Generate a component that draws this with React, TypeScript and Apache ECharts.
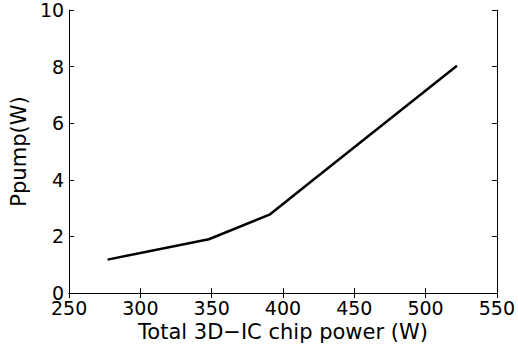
import React, { useEffect, useRef } from "react";
import * as echarts from "echarts";

const powerW = [277, 348, 391, 418, 522];
const pumpW = [1.18, 1.9, 2.78, 3.87, 8.03];
const xTitle = "Total 3D\u2212IC chip power (W)";
const yTitle = "Ppump(W)";

const FONT = "DejaVu Sans";

export default function App() {
  const ref = useRef<HTMLDivElement>(null);
  useEffect(() => {
    if (!ref.current) return;
    const chart = echarts.init(ref.current, null, { renderer: "svg" });
    const axisLine = { show: true, lineStyle: { color: "#000", width: 1 } };
    const tick = { show: true, inside: true, length: 5, lineStyle: { color: "#000", width: 1 } };
    chart.setOption({
      animation: false,
      backgroundColor: "#fff",
      grid: { left: 69, top: 10, right: 19, bottom: 59, containLabel: false },
      xAxis: [
        {
          type: "value",
          min: 250,
          max: 550,
          interval: 50,
          position: "bottom",
          axisLine,
          axisTick: tick,
          splitLine: { show: false },
          axisLabel: { color: "#000", fontSize: 19, fontFamily: FONT, margin: 5 },
          name: xTitle,
          nameLocation: "middle",
          nameGap: 25,
          nameTextStyle: { color: "#000", fontSize: 21, fontFamily: FONT },
        },
        {
          type: "value",
          min: 250,
          max: 550,
          interval: 50,
          position: "top",
          axisLine,
          axisTick: tick,
          splitLine: { show: false },
          axisLabel: { show: false },
        },
      ],
      yAxis: [
        {
          type: "value",
          min: 0,
          max: 10,
          interval: 2,
          position: "left",
          axisLine,
          axisTick: tick,
          splitLine: { show: false },
          axisLabel: { color: "#000", fontSize: 19, fontFamily: FONT, margin: 5 },
          name: yTitle,
          nameLocation: "middle",
          nameGap: 35,
          nameTextStyle: { color: "#000", fontSize: 21, fontFamily: FONT },
        },
        {
          type: "value",
          min: 0,
          max: 10,
          interval: 2,
          position: "right",
          axisLine,
          axisTick: tick,
          splitLine: { show: false },
          axisLabel: { show: false },
        },
      ],
      series: [
        {
          type: "line",
          xAxisIndex: 0,
          yAxisIndex: 0,
          data: powerW.map((x, i) => [x, pumpW[i]]),
          showSymbol: false,
          symbol: "none",
          lineStyle: { color: "#000", width: 2.5 },
        },
      ],
    });
    return () => chart.dispose();
  }, []);
  return (
    <div
      ref={ref}
      style={{ position: "fixed", left: 0, top: 0, width: 518, height: 352, background: "#fff" }}
    />
  );
}
